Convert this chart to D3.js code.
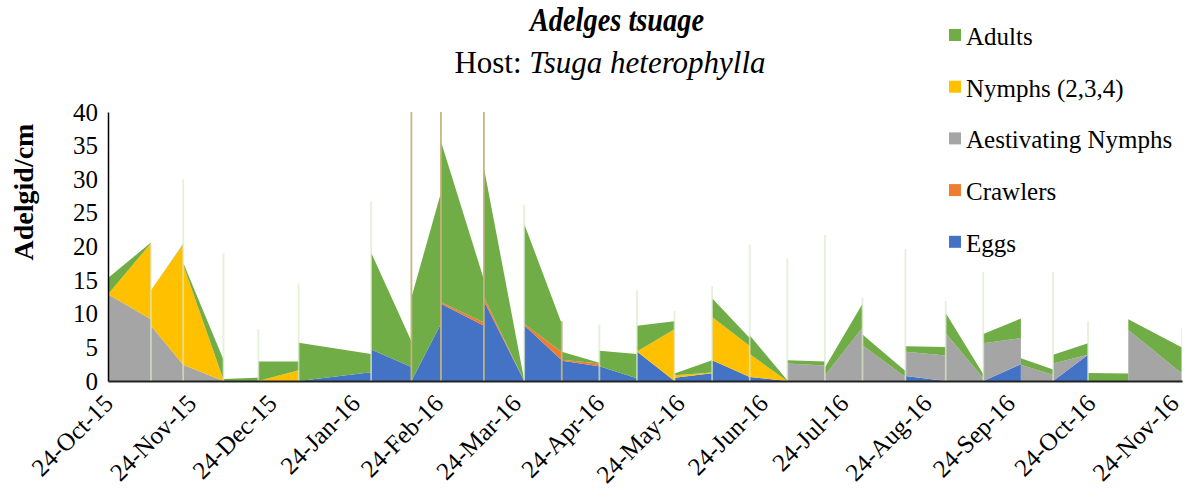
<!DOCTYPE html>
<html>
<head>
<meta charset="utf-8">
<script src="https://cdn.jsdelivr.net/npm/d3@7"></script>
<style>
  body { margin: 0; background: #fff; }
  svg { display: block; }
  svg text { font-family: "Liberation Serif", "Tinos", "DejaVu Serif", serif !important; fill: #000; }
</style>
</head>
<body>
<svg id="chart" width="1185" height="501"></svg>
<script>
// Sampling dates (counts are drawn between consecutive dates)
const sampleDates = [
  "2015-10-24", "2015-11-09", "2015-11-21", "2015-12-06", "2015-12-19", "2016-01-03",
  "2016-01-30", "2016-02-14", "2016-02-25", "2016-03-12", "2016-03-27", "2016-04-10",
  "2016-04-24", "2016-05-08", "2016-05-22", "2016-06-05", "2016-06-19", "2016-07-03",
  "2016-07-17", "2016-07-31", "2016-08-16", "2016-08-31", "2016-09-14", "2016-09-28",
  "2016-10-10", "2016-10-23", "2016-11-07", "2016-11-27"
];

// Adelgids per cm for each interval: [value at interval start, value at interval end]
const eggs = [
  [0, 0], [0, 0], [0, 0], [0, 0], [0, 0], [0, 1.3], [4.7, 2.1], [0, 8.5], [11.5, 8.2],
  [11.9, 0], [8.3, 3.1], [3.0, 2.2], [2.2, 0.4], [4.4, 0], [0.5, 1.15], [3.1, 0.6], [0.6, 0],
  [0, 0], [0, 0], [0, 0], [0.75, 0], [0, 0], [0, 2.5], [0, 0], [0, 3.9], [0, 0], [0, 0]
];
const crawlers = [
  [0, 0], [0, 0], [0, 0], [0, 0], [0, 0], [0, 0], [0, 0], [0, 0], [0.2, 0.5],
  [0.6, 0], [0.2, 1.2], [0.15, 0.4], [0, 0], [0, 0], [0, 0], [0, 0], [0, 0],
  [0, 0], [0, 0], [0, 0], [0, 0], [0, 0], [0, 0], [0, 0], [0, 0], [0, 0], [0, 0]
];
const aestivating = [
  [12.9, 9.2], [8.2, 2.4], [2.4, 0], [0, 0], [0, 0], [0, 0], [0, 0], [0, 0], [0, 0],
  [0, 0], [0, 0], [0, 0], [0, 0], [0, 0], [0, 0], [0, 0], [0, 0],
  [2.6, 2.3], [0.8, 7.9], [5.3, 0.6], [3.6, 3.8], [7.1, 0.4], [5.6, 3.9], [2.4, 0.9], [2.6, 0], [0, 0], [7.6, 1.1]
];
const nymphs = [
  [0, 11.3], [5.3, 17.9], [14.9, 0.2], [0, 0], [0, 1.6], [0, 0], [0, 0], [0, 0], [0, 0],
  [0, 0], [0, 0], [0, 0], [0, 0], [0, 7.7], [0.35, 0.1], [6.4, 4.6], [3.4, 0],
  [0, 0], [0, 0], [0, 0], [0, 0], [0, 0], [0, 0], [0, 0], [0, 0], [0, 0], [0, 0]
];
const adults = [
  [2.4, 0.1], [0, 0.1], [0.3, 3.0], [0.3, 0.5], [2.9, 1.3], [5.7, 2.7], [14.4, 3.8], [12.4, 19.5], [23.9, 6.4],
  [19.2, 0.2], [14.9, 4.2], [1.2, 0.1], [2.3, 3.6], [3.8, 1.2], [0.25, 1.85], [2.8, 1.2], [2.8, 0.1],
  [0.5, 0.6], [1.2, 3.6], [1.6, 0.9], [0.8, 1.25], [3.0, 0.6], [1.4, 2.9], [1.0, 0.8], [1.3, 1.7], [1.2, 1.1], [1.6, 3.9]
];

// Upper end of the error bar at each sampling date (null = none)
const errorTop = [
  null, 20.5, 30.0, 19.0, 7.7, 14.5, 26.7, 45, 45, 45, 26.2, 8.9, 8.4, 13.5,
  10.4, 14.1, 20.3, 18.2, 21.7, 12.4, 19.6, 11.9, 16.2, null, 16.2, 8.9, null, 7.9
];
const errorTone = [
  "pale", "pale", "pale", "pale", "pale", "pale", "pale", "tan", "tan", "tan", "pale", "tan", "pale", "pale",
  "pale", "pale", "pale", "pale", "pale", "pale", "pale", "pale", "pale", "pale", "pale", "pale", "pale", "pale"
];

const tickDates = [
  "2015-10-24", "2015-11-24", "2015-12-24", "2016-01-24", "2016-02-24", "2016-03-24", "2016-04-24",
  "2016-05-24", "2016-06-24", "2016-07-24", "2016-08-24", "2016-09-24", "2016-10-24", "2016-11-24"
];
const yTicks = [0, 5, 10, 15, 20, 25, 30, 35, 40];

const seriesKeys = ["eggs", "crawlers", "aestivating", "nymphs", "adults"];
const seriesNames = ["Eggs", "Crawlers", "Aestivating Nymphs", "Nymphs (2,3,4)", "Adults"];
const seriesColors = ["#4472C4", "#ED7D31", "#A5A5A5", "#FFC000", "#70AD47"];

const parse = d3.timeParse("%Y-%m-%d");
const fmt = d3.timeFormat("%d-%b-%y");
const dates = sampleDates.map(parse);

// Each interval contributes a start point and an end point, so values can jump at a sampling date
const seriesData = { eggs, crawlers, aestivating, nymphs, adults };
const points = [];
for (let i = 0; i < dates.length - 1; i++) {
  for (let k = 0; k < 2; k++) {
    const p = { date: dates[i + k] };
    seriesKeys.forEach(key => { p[key] = seriesData[key][i][k]; });
    points.push(p);
  }
}

const svg = d3.select("#chart");
const plot = { left: 108, right: 1182, top: 112, bottom: 381 };

const x = d3.scaleTime()
  .domain([dates[0], dates[dates.length - 1]])
  .range([plot.left, plot.right]);
const y = d3.scaleLinear().domain([0, 40]).range([plot.bottom, plot.top]);

svg.append("defs").append("clipPath").attr("id", "plot-clip")
  .append("rect")
  .attr("x", plot.left).attr("y", plot.top)
  .attr("width", plot.right - plot.left).attr("height", plot.bottom - plot.top);

const stacked = d3.stack().keys(seriesKeys)(points);
const area = d3.area()
  .x(d => x(d.data.date))
  .y0(d => y(d[0]))
  .y1(d => y(d[1]));

const g = svg.append("g").attr("clip-path", "url(#plot-clip)");
g.selectAll("path.layer")
  .data(stacked)
  .join("path")
  .attr("class", "layer")
  .attr("fill", (d, i) => seriesColors[i])
  .attr("d", area);

// Error bars
const errData = dates.map((d, i) => ({ date: d, top: errorTop[i], tone: errorTone[i] }))
  .filter(d => d.top !== null);
g.selectAll("line.err")
  .data(errData)
  .join("line")
  .attr("class", "err")
  .attr("x1", d => x(d.date)).attr("x2", d => x(d.date))
  .attr("y1", y(0)).attr("y2", d => y(d.top))
  .attr("stroke", d => d.tone === "tan" ? "#c3b37c" : "#dbe8cb")
  .attr("stroke-opacity", d => d.tone === "tan" ? 0.95 : 0.7)
  .attr("stroke-width", 1.8);

// Axes
const yAxis = d3.axisLeft(y).tickValues(yTicks).tickSize(0).tickPadding(10);
svg.append("g")
  .attr("transform", `translate(${plot.left},0)`)
  .call(yAxis)
  .call(a => a.select(".domain").attr("stroke", "#000").attr("stroke-width", 1.5))
  .call(a => a.selectAll("text").attr("font-size", 25));

const xAxis = d3.axisBottom(x).tickValues(tickDates.map(parse)).tickFormat(fmt).tickSize(0);
svg.append("g")
  .attr("transform", `translate(0,${plot.bottom})`)
  .call(xAxis)
  .call(a => a.select(".domain").attr("stroke", "#222").attr("stroke-width", 2))
  .call(a => a.selectAll("text")
    .attr("font-size", 25)
    .attr("text-anchor", "end")
    .attr("dy", null).attr("y", 0)
    .attr("transform", "translate(6,24) rotate(-45)"));

// Axis title
svg.append("text")
  .attr("transform", "translate(33,192) rotate(-90)")
  .attr("text-anchor", "middle")
  .attr("font-size", 28)
  .attr("font-weight", "bold")
  .text("Adelgid/cm");

// Titles
svg.append("text")
  .attr("transform", "translate(617,31) scale(0.86,1)")
  .attr("text-anchor", "middle")
  .attr("font-size", 33)
  .attr("font-weight", "bold")
  .attr("font-style", "italic")
  .text("Adelges tsuage");

const sub = svg.append("text")
  .attr("x", 610).attr("y", 73)
  .attr("text-anchor", "middle")
  .attr("font-size", 31);
sub.append("tspan").text("Host: ");
sub.append("tspan").attr("font-style", "italic").text("Tsuga heterophylla");

// Legend (top series first)
const legendOrder = [4, 3, 2, 1, 0];
const legend = svg.append("g");
legendOrder.forEach((si, row) => {
  const cy = 35 + row * 51.7;
  legend.append("rect")
    .attr("x", 949).attr("y", cy - 6)
    .attr("width", 12).attr("height", 12)
    .attr("fill", seriesColors[si]);
  legend.append("text")
    .attr("x", 966).attr("y", cy + 10)
    .attr("font-size", 25)
    .text(seriesNames[si]);
});
</script>
</body>
</html>
